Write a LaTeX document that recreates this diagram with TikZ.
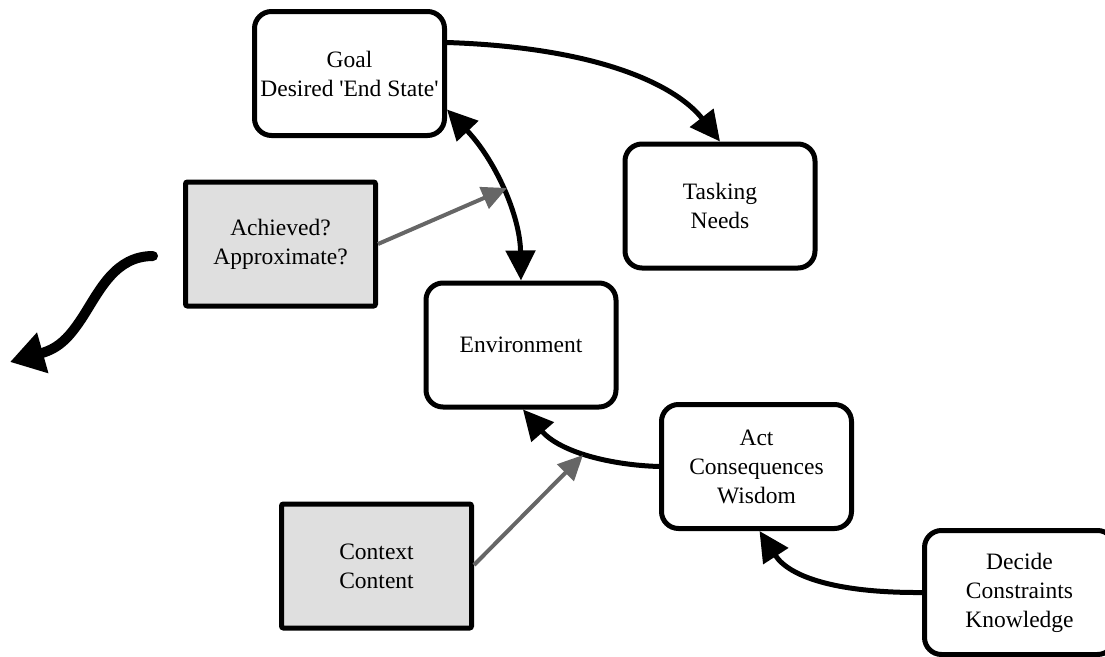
\documentclass[tikz,border=0pt]{standalone}
\usepackage{fontspec}
\setmainfont{Liberation Serif}
\usetikzlibrary{arrows.meta}
\definecolor{boxgray}{HTML}{DFDFDF}
\definecolor{linkgray}{HTML}{666666}
\begin{document}
\begin{tikzpicture}[x=1pt,y=-1pt,
  every node/.style={font=\fontsize{23.5}{29}\selectfont, align=center, inner sep=0pt},
  stage/.style={draw=black, line width=5pt, rounded corners=17pt, fill=white,
    minimum width=190pt, minimum height=124pt},
  note/.style={draw=black, line width=5pt, rounded corners=2pt, fill=boxgray,
    minimum width=190pt, minimum height=124pt},
  flow/.style={draw=black, line width=5pt, -{Triangle[length=30pt,width=29pt]}},
  twoway/.style={draw=black, line width=5pt, {Triangle[length=30pt,width=29pt]}-{Triangle[length=30pt,width=29pt]}},
  feed/.style={draw=linkgray, line width=4pt, -{Triangle[length=25pt,width=23pt]}},
  exitarrow/.style={draw=black, line width=10pt, line cap=round, -{Triangle[length=34pt,width=40pt]}}]
\useasboundingbox (0,0) rectangle (1105,656);
\clip (0,0) rectangle (1105,656);

% stages of the cycle
\node[stage] (goal) at (349.5,73.5) {Goal\\Desired \textquotesingle End State\textquotesingle};
\node[stage] (task) at (720,206) {Tasking\\Needs};
\node[stage] (env)  at (521,345) {Environment};
\node[stage] (act)  at (756.5,466.5) {Act\\Consequences\\Wisdom};
\node[stage] (dec)  at (1019.5,592.5) {Decide\\Constraints\\Knowledge};

% shaded side notes
\node[note] (ach) at (280.5,244) {Achieved?\\Approximate?};
\node[note] (ctx) at (376.5,566) {Context\\Content};

% connectors between stages
\draw[flow] ([yshift=31pt]goal.east) .. controls (610,48) and (680,90) .. (task.north);
\draw[twoway] ([yshift=-36pt]goal.east) .. controls (495,160) and (520,215) .. (env.north);
\draw[flow] (act.west) .. controls (610,465) and (560,452) .. ([xshift=2pt]env.south);
\draw[flow] (dec.west) .. controls (840,593) and (790,578) .. ([xshift=3pt]act.south);

% feedback from the notes onto the cycle
\coordinate (hitA) at (507,188);
\coordinate (hitB) at (583,455);
\draw[feed] (ach.east) -- (hitA);
\draw[feed] ([yshift=1pt]ctx.east) -- (hitB);

% exit arrow
\coordinate (exitA) at (153,256);
\coordinate (exitB) at (10,362);
\draw[exitarrow] (exitA) .. controls (115,256) and (100,290) .. (82,318)
  .. controls (70,336) and (60,348) .. (exitB);
\end{tikzpicture}
\end{document}
